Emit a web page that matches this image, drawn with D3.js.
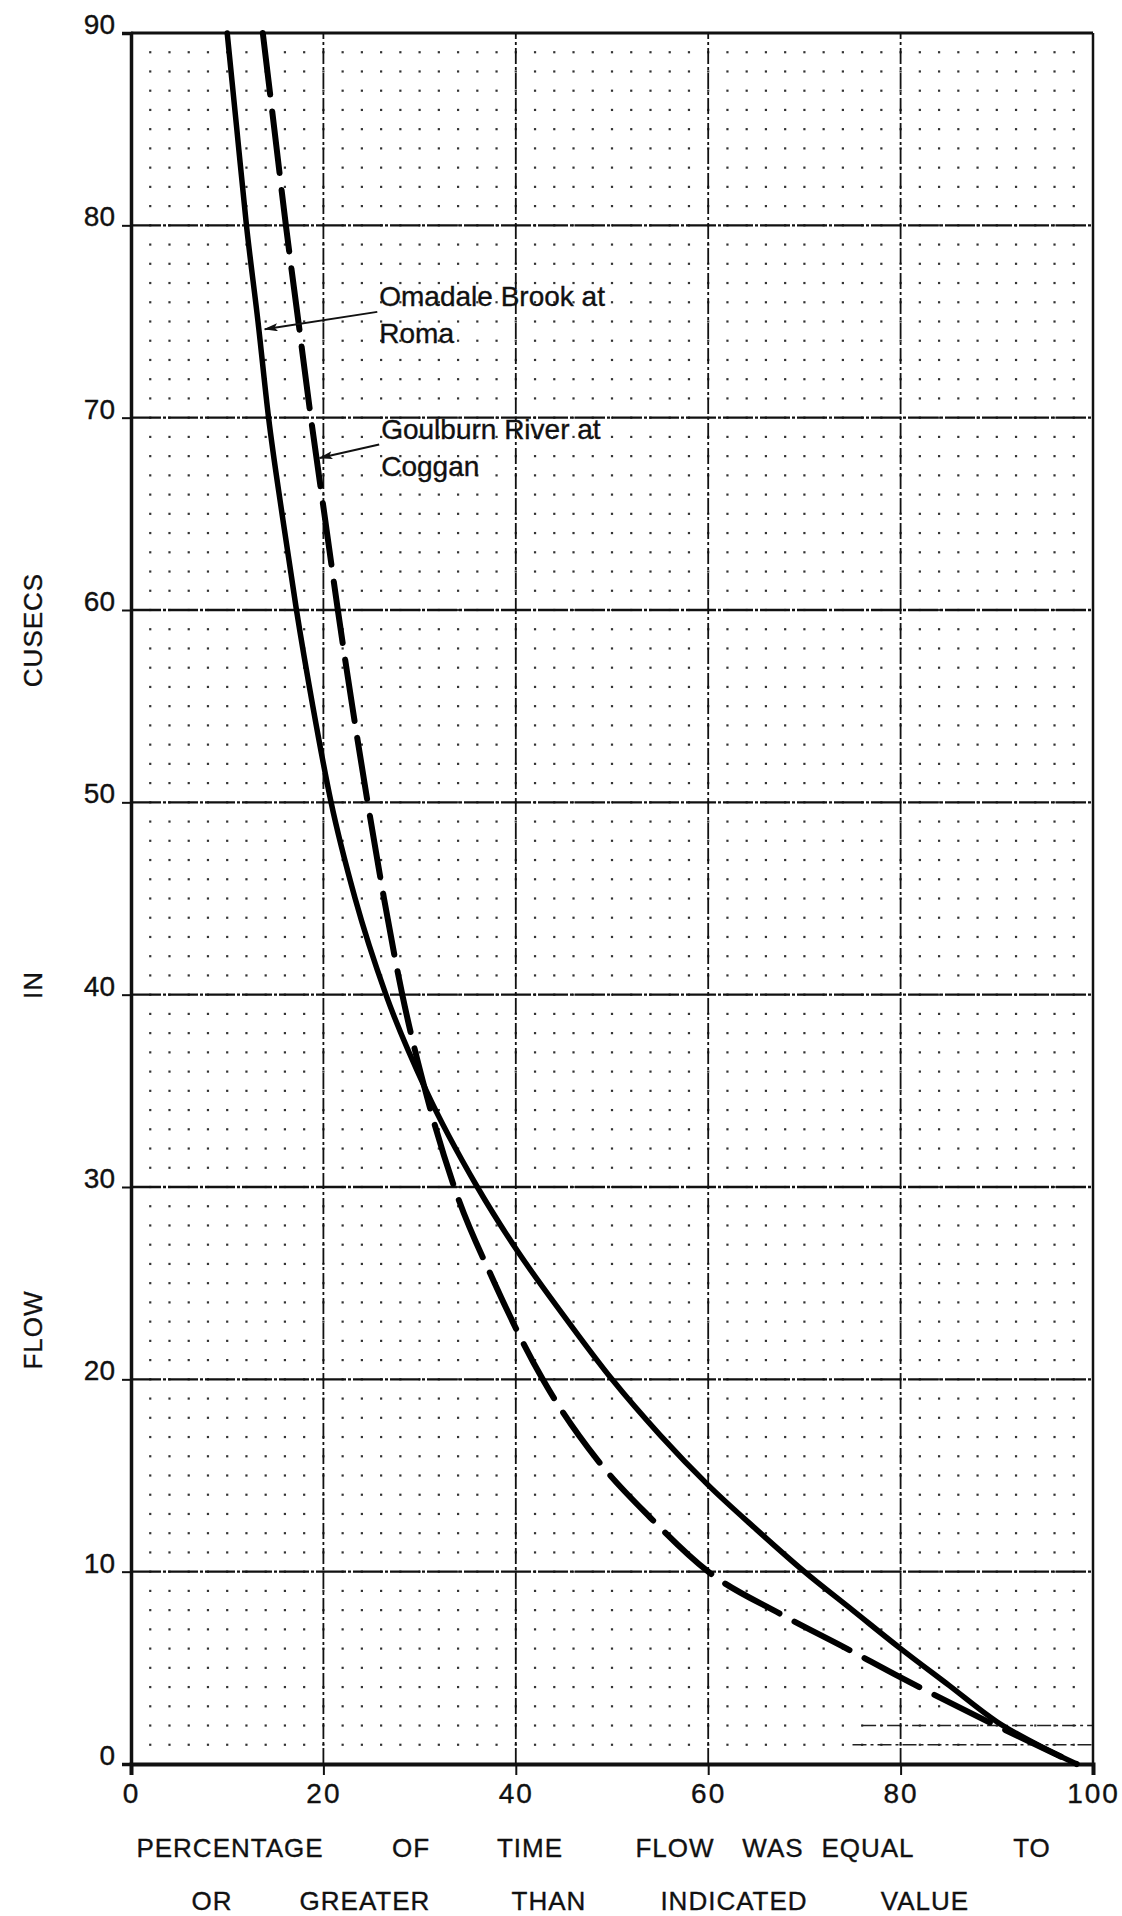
<!DOCTYPE html>
<html>
<head>
<meta charset="utf-8">
<script src="https://cdn.jsdelivr.net/npm/d3@7/dist/d3.min.js"></script>
<style>
body{margin:0;background:#fff;}
text{font-family:"Liberation Sans",Arial,sans-serif;fill:#111;stroke:#111;stroke-width:0.35px;}
</style>
</head>
<body>
<div id="chart"></div>
<script>
// data
var xTicks = [0, 20, 40, 60, 80, 100];
var yTicks = [0, 10, 20, 30, 40, 50, 60, 70, 80, 90];

// Omadale Brook at Roma (solid)
var omadaleX = [10, 11.0, 12.0, 13.2, 14.3, 15.7, 17.2, 18.9, 20.8, 23.3, 26.5, 30.7, 36.0, 40, 45, 50, 55, 60, 65, 70, 75, 80, 85, 90, 95, 98.3];
var omadaleY = [90, 85, 80, 75, 70, 65, 60, 55, 50, 45, 40, 35, 30, 26.8, 23.3, 20.0, 17.1, 14.5, 12.2, 10.0, 8.0, 6.0, 4.1, 2.2, 0.8, 0];

// Goulburn River at Coggan (dashed)
var goulburnX = [13.7, 14.9, 16.1, 17.4, 18.7, 20.1, 21.5, 23.0, 24.6, 26.3, 28.2, 30.6, 33.6, 37.8, 42.8, 48.5, 54.0, 60.0, 67.5, 74.4, 80.0, 89.5, 98.3];
var goulburnY = [90, 85, 80, 75, 70, 65, 60, 55, 50, 45, 40, 35, 30, 25, 20, 15.8, 12.8, 10.0, 7.8, 6.0, 4.5, 2.1, 0];

// short extra rules on the graph paper near the bottom right: [y, xFrom, xTo]
var extraRules = [[2, 76, 100], [1, 75, 100]];

var yTitleWords = ["CUSECS", "IN", "FLOW"];
var xTitleLine1 = ["PERCENTAGE", "OF", "TIME", "FLOW", "WAS", "EQUAL", "TO"];
var xTitleLine2 = ["OR", "GREATER", "THAN", "INDICATED", "VALUE"];

var labelLines = [["Omadale Brook at", "Roma"], ["Goulburn River at", "Coggan"]];
var labelTip = [[13.9, 74.6], [19.6, 67.9]];   // where the arrows point (data units)
var labelFrom = [[25.6, 75.5], [25.8, 68.6]];

// layout
var w = 1122, h = 1916;
var yTitleY = [630, 985, 1330];
var line1X = [230, 411, 530, 675, 773, 868, 1032];
var line2X = [212, 365, 549, 734, 925];

var xScale = d3.scaleLinear().domain([0, 100]).range([131, 1093]);
var yScale = d3.scaleLinear().domain([0, 90]).range([1764, 33]);

var svg = d3.select("#chart").append("svg")
  .attr("width", w)
  .attr("height", h);

svg.append("defs").append("marker")
  .attr("id", "arrow")
  .attr("viewBox", "0 0 14 8")
  .attr("refX", 13)
  .attr("refY", 4)
  .attr("markerWidth", 14)
  .attr("markerHeight", 8)
  .attr("markerUnits", "userSpaceOnUse")
  .attr("orient", "auto")
  .append("path")
  .attr("d", "M0,0 L14,4 L0,8 L3,4 Z")
  .attr("fill", "#111");

// dotted graph paper
var dots = [];
d3.range(2, 100, 2).forEach(function(xv){
  d3.range(1, 90, 1).forEach(function(yv){ dots.push([xv, yv]); });
});
svg.append("g").selectAll("rect")
  .data(dots)
  .enter().append("rect")
  .attr("x", function(d){ return xScale(d[0]) - 1.1; })
  .attr("y", function(d){ return yScale(d[1]) - 1.1; })
  .attr("width", 2.2)
  .attr("height", 2.2)
  .attr("fill", "#333");

svg.append("g").selectAll("line")
  .data(extraRules)
  .enter().append("line")
  .attr("x1", function(d){ return xScale(d[1]); })
  .attr("x2", function(d){ return xScale(d[2]); })
  .attr("y1", function(d){ return yScale(d[0]); })
  .attr("y2", function(d){ return yScale(d[0]); })
  .attr("stroke", "#222")
  .attr("stroke-width", 1.6)
  .attr("stroke-dasharray", "14,4,3,4");

// major grid
svg.append("g").selectAll("line")
  .data(yTicks.filter(function(d){ return d > 0 && d < 90; }))
  .enter().append("line")
  .attr("x1", xScale(0)).attr("x2", xScale(100))
  .attr("y1", function(d){ return yScale(d); })
  .attr("y2", function(d){ return yScale(d); })
  .attr("stroke", "#111")
  .attr("stroke-width", 2.3)
  .attr("stroke-dasharray", "30,2,3,2");

svg.append("g").selectAll("line")
  .data(xTicks.filter(function(d){ return d > 0 && d < 100; }))
  .enter().append("line")
  .attr("y1", yScale(0)).attr("y2", yScale(90))
  .attr("x1", function(d){ return xScale(d); })
  .attr("x2", function(d){ return xScale(d); })
  .attr("stroke", "#111")
  .attr("stroke-width", 1.8)
  .attr("stroke-dasharray", "16,3,3,3");

// frame
svg.append("line")
  .attr("x1", xScale(0)).attr("x2", xScale(100))
  .attr("y1", yScale(90)).attr("y2", yScale(90))
  .attr("stroke", "#111").attr("stroke-width", 3);
svg.append("line")
  .attr("x1", xScale(100)).attr("x2", xScale(100))
  .attr("y1", yScale(90)).attr("y2", yScale(0))
  .attr("stroke", "#111").attr("stroke-width", 2.5);

// axes
var yAxis = svg.append("g")
  .attr("transform", "translate(" + xScale(0) + ",0)")
  .call(d3.axisLeft(yScale).tickValues(yTicks).tickSize(9).tickPadding(7));
yAxis.select(".domain").attr("stroke", "#111").attr("stroke-width", 3.5);
yAxis.selectAll(".tick line").attr("stroke", "#111").attr("stroke-width", 2);
yAxis.selectAll(".tick text")
  .attr("dy", "0.02em")
  .style("font-size", "28px")
  .style("font-family", "Liberation Sans, Arial, sans-serif")
  .attr("fill", "#111");

var xAxis = svg.append("g")
  .attr("transform", "translate(0," + yScale(0) + ")")
  .call(d3.axisBottom(xScale).tickValues(xTicks).tickSize(11).tickPadding(8));
xAxis.select(".domain").attr("stroke", "#111").attr("stroke-width", 4);
xAxis.selectAll(".tick line").attr("stroke", "#111").attr("stroke-width", 2);
xAxis.selectAll(".tick text")
  .style("font-size", "28px")
  .style("letter-spacing", "2px")
  .style("font-family", "Liberation Sans, Arial, sans-serif")
  .attr("fill", "#111");

// curves
var line = d3.line()
  .x(function(d){ return xScale(d[0]); })
  .y(function(d){ return yScale(d[1]); })
  .curve(d3.curveMonotoneX);

svg.append("path")
  .datum(d3.zip(omadaleX, omadaleY))
  .attr("d", line)
  .attr("fill", "none")
  .attr("stroke", "#000")
  .attr("stroke-width", 5.5)
  .attr("stroke-linecap", "round");

svg.append("path")
  .datum(d3.zip(goulburnX, goulburnY))
  .attr("d", line)
  .attr("fill", "none")
  .attr("stroke", "#000")
  .attr("stroke-width", 6)
  .attr("stroke-linecap", "round")
  .attr("stroke-dasharray", "62,17");

// labels with arrows
labelLines.forEach(function(lines, i){
  var fx = xScale(labelFrom[i][0]), fy = yScale(labelFrom[i][1]);
  svg.append("line")
    .attr("x1", fx).attr("y1", fy)
    .attr("x2", xScale(labelTip[i][0])).attr("y2", yScale(labelTip[i][1]))
    .attr("stroke", "#111").attr("stroke-width", 2)
    .attr("marker-end", "url(#arrow)");
  svg.append("g").selectAll("text")
    .data(lines)
    .enter().append("text")
    .attr("x", fx + 2)
    .attr("y", function(d, j){ return fy - 6 + j * 37; })
    .style("font-size", "28px")
    .text(function(d){ return d; });
});

// axis titles
svg.append("g").selectAll("text")
  .data(yTitleWords)
  .enter().append("text")
  .attr("transform", function(d, i){ return "translate(33," + yTitleY[i] + ") rotate(-90)"; })
  .attr("text-anchor", "middle")
  .attr("dominant-baseline", "central")
  .style("font-size", "26px")
  .style("letter-spacing", "1px")
  .text(function(d){ return d; });

svg.append("g").selectAll("text")
  .data(xTitleLine1)
  .enter().append("text")
  .attr("x", function(d, i){ return line1X[i]; })
  .attr("y", 1857)
  .attr("text-anchor", "middle")
  .style("font-size", "26px")
  .style("letter-spacing", "1px")
  .text(function(d){ return d; });

svg.append("g").selectAll("text")
  .data(xTitleLine2)
  .enter().append("text")
  .attr("x", function(d, i){ return line2X[i]; })
  .attr("y", 1910)
  .attr("text-anchor", "middle")
  .style("font-size", "26px")
  .style("letter-spacing", "1px")
  .text(function(d){ return d; });
</script>
</body>
</html>
